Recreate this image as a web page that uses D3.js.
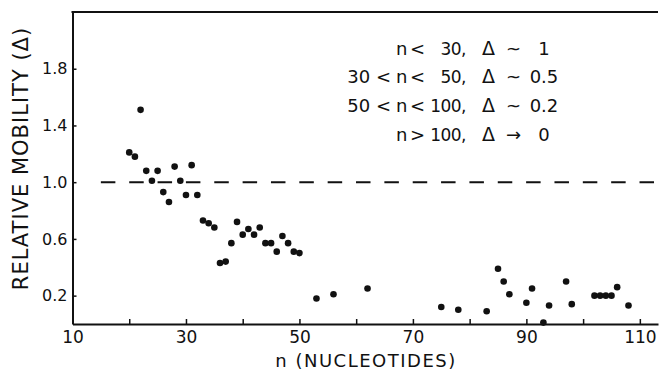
<!DOCTYPE html>
<html>
<head>
<meta charset="utf-8">
<script src="https://cdn.jsdelivr.net/npm/d3@7"></script>
<style>
  body { margin: 0; background: #fff; }
  svg { display: block; }
  text { font-family: "DejaVu Sans", sans-serif; fill: #111; }
</style>
</head>
<body>
<script>
// nucleotide length vs relative mobility
const nucleotides = [20, 21, 22, 23, 24, 25, 26, 27, 28, 29, 30, 31, 32, 33, 34, 35, 36, 37, 38, 39,
  40, 41, 42, 43, 44, 45, 46, 47, 48, 49, 50, 53, 56, 62, 75, 78, 83, 85, 86, 87,
  90, 91, 93, 94, 97, 98, 102, 103, 104, 105, 106, 108]
const mobility = [1.21, 1.18, 1.51, 1.08, 1.01, 1.08, 0.93, 0.86, 1.11, 1.01, 0.91, 1.12, 0.91, 0.73, 0.71, 0.68, 0.43, 0.44, 0.57, 0.72,
  0.63, 0.67, 0.63, 0.68, 0.57, 0.57, 0.51, 0.62, 0.57, 0.51, 0.50, 0.18, 0.21, 0.25, 0.12, 0.10, 0.09, 0.39, 0.30, 0.21,
  0.15, 0.25, 0.01, 0.13, 0.30, 0.14, 0.20, 0.20, 0.20, 0.20, 0.26, 0.13]

const xTicks = [10, 20, 30, 40, 50, 60, 70, 80, 90, 100, 110]
const xLabelled = [10, 30, 50, 70, 90, 110]
const yTicks = [0.2, 0.6, 1.0, 1.4, 1.8]
const refLevel = 1.0

// legend rows split into columns so they line up like the original
const legPrefix = ["", "30 <", "50 <", ""]
const legCmp = ["<", "<", "<", ">"]
const legBound = ["30,", "50,", "100,", "100,"]
const legSym = ["~", "~", "~", "→"]
const legValue = ["1", "0.5", "0.2", "0"]

const width = 661, height = 382

const svg = d3.select("body").append("svg")
  .attr("width", width)
  .attr("height", height)

const x = d3.scaleLinear().domain([10, 113.2]).range([72.5, 658])
const y = d3.scaleLinear().domain([0, 2.2]).range([324, 12])

// x axis, ticks pointing up
const xAxis = svg.append("g")
  .attr("transform", `translate(0,${y(0)})`)
  .call(d3.axisBottom(x)
    .tickValues(xTicks)
    .tickSizeInner(-5)
    .tickSizeOuter(0)
    .tickPadding(7)
    .tickFormat(d => xLabelled.includes(d) ? d : ""))
xAxis.select(".domain").attr("stroke", "#111").attr("stroke-width", 2)
xAxis.selectAll(".tick line").attr("stroke", "#111").attr("stroke-width", 1.5)
xAxis.selectAll("text").style("font-size", "17px").attr("fill", "#111")

// y axis, ticks pointing right
const yAxis = svg.append("g")
  .attr("transform", `translate(${x(10)},0)`)
  .call(d3.axisLeft(y)
    .tickValues(yTicks)
    .tickSizeInner(-4)
    .tickSizeOuter(0)
    .tickPadding(5)
    .tickFormat(d3.format(".1f")))
yAxis.select(".domain").attr("stroke", "#111").attr("stroke-width", 2)
yAxis.selectAll(".tick line").attr("stroke", "#111").attr("stroke-width", 1.5)
yAxis.selectAll("text").style("font-size", "16px").attr("fill", "#111")

// top frame line (no right edge in the original)
svg.append("line")
  .attr("x1", x(10) - 1).attr("x2", x(113.2))
  .attr("y1", y(2.2)).attr("y2", y(2.2))
  .attr("stroke", "#111").attr("stroke-width", 2)

// dashed reference at delta = 1
svg.append("line")
  .attr("x1", x(15)).attr("x2", x(112.8))
  .attr("y1", y(refLevel)).attr("y2", y(refLevel))
  .attr("stroke", "#111").attr("stroke-width", 2)
  .attr("stroke-dasharray", "14.5,13.85")

svg.append("g").selectAll("circle")
  .data(nucleotides)
  .join("circle")
  .attr("cx", d => x(d))
  .attr("cy", (d, i) => y(mobility[i]))
  .attr("r", 3.3)
  .attr("fill", "#111")

// axis titles
svg.append("text")
  .attr("transform", `translate(28,158.5) rotate(-90)`)
  .attr("text-anchor", "middle")
  .style("font-size", "21px")
  .style("letter-spacing", "1px")
  .text("RELATIVE MOBILITY (Δ)")

svg.append("text")
  .attr("x", 366).attr("y", 367)
  .attr("text-anchor", "middle")
  .style("font-size", "18px")
  .style("letter-spacing", "1.5px")
  .text("n (NUCLEOTIDES)")

// legend block
const rowY = [55, 83, 111.5, 141]
const leg = svg.append("g").style("font-size", "18px")
rowY.forEach((ry, i) => {
  const row = leg.append("g")
  row.append("text").attr("x", 391).attr("y", ry).attr("text-anchor", "end").text(legPrefix[i])
  row.append("text").attr("x", 396).attr("y", ry).text("n")
  row.append("text").attr("x", 410).attr("y", ry).text(legCmp[i])
  row.append("text").attr("x", 466).attr("y", ry).attr("text-anchor", "end")
    .style("font-size", "17px").style("letter-spacing", "-0.5px").text(legBound[i])
  row.append("text").attr("x", 482).attr("y", ry).style("font-size", "19px").text("Δ")
  row.append("text").attr("x", 506).attr("y", ry).text(legSym[i])
  row.append("text").attr("x", 544).attr("y", ry).attr("text-anchor", "middle").text(legValue[i])
})
</script>
</body>
</html>
